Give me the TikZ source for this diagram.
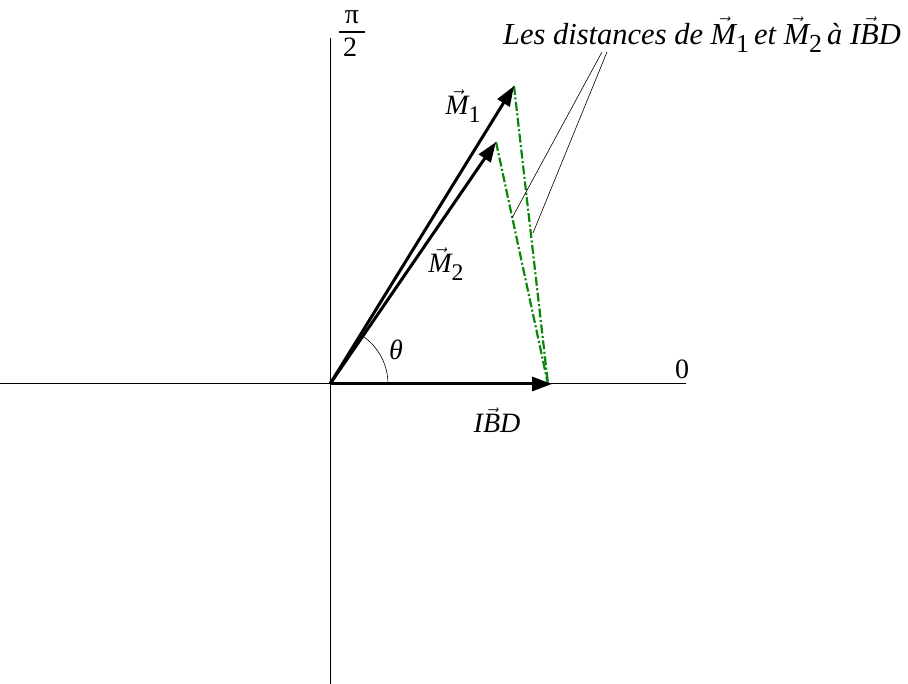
\documentclass[tikz,border=0pt]{standalone}
\usepackage{fontspec}
\setmainfont{Liberation Serif}
\usetikzlibrary{arrows.meta}
\definecolor{dgreen}{RGB}{10,135,10}
\newcommand{\vecM}{\ensuremath{\vec{\textit{M}}}}
\newcommand{\subidx}[1]{\raisebox{-0.28em}{\upshape\fontsize{0.85em}{1em}\selectfont #1}}
\newcommand{\IBDvec}{\textit{I}\ensuremath{\vec{\textit{B}}}\textit{D}}
\begin{document}
\begin{tikzpicture}[x=1pt,y=-1pt,
  axis/.style={line width=1pt},
  vecarrow/.style={line width=3pt,-{Triangle[length=20pt,width=14pt]}},
  distline/.style={dgreen,line width=2.2pt,dash pattern=on 9pt off 2.5pt on 2pt off 2.5pt},
  leader/.style={line width=0.6pt},
  lab/.style={font=\fontsize{28}{32}\selectfont\itshape,inner sep=0pt},
  uplab/.style={font=\fontsize{28}{32}\selectfont,inner sep=0pt}]
\useasboundingbox (0,0) rectangle (908,684);
\coordinate (O) at (330,384);
\coordinate (xl) at (0,384);
\coordinate (xr) at (686,384);
\coordinate (yt) at (330,38);
\coordinate (yb) at (330,684);
\draw[axis] (xl) -- (xr);
\draw[axis] (yt) -- (yb);
\coordinate (M1) at (514,86);
\coordinate (M2) at (496,142);
\coordinate (B) at (552,384);
\coordinate (F) at (548,384);
\draw[distline] (M1) -- (F);
\draw[distline] (M2) -- (F);
\draw[vecarrow] (O) -- (M1);
\draw[vecarrow] (O) -- (M2);
\draw[vecarrow] (O) -- (B);
\draw[leader] (O) ++(58,0) arc[start angle=0,end angle=-57,radius=58];
\node[lab,font=\fontsize{30.5}{34}\selectfont\itshape] (title) at (702,35) {Les distances de \vecM\subidx{1}\,et \vecM\subidx{2}\,à \IBDvec};
\coordinate (t1) at (602,52);
\coordinate (t2) at (607,52);
\coordinate (e1) at (512,218);
\coordinate (e2) at (533,233);
\draw[leader] (t1) -- (e1);
\draw[leader] (t2) -- (e2);
\node[lab] (m1) at (463,106) {\vecM\subidx{1}};
\node[lab] (m2) at (446,264) {\vecM\subidx{2}};
\node[lab] (th) at (396,350) {θ};
\node[lab] (ibd) at (497,420) {\IBDvec};
\node[uplab] (zero) at (682,369) {0};
\node[uplab] (pi) at (352,17) {π};
\node[uplab] (two) at (350,47) {2};
\coordinate (bl) at (339,32.5);
\coordinate (br) at (365,32.5);
\draw[line width=2pt] (bl) -- (br);
\end{tikzpicture}
\end{document}
